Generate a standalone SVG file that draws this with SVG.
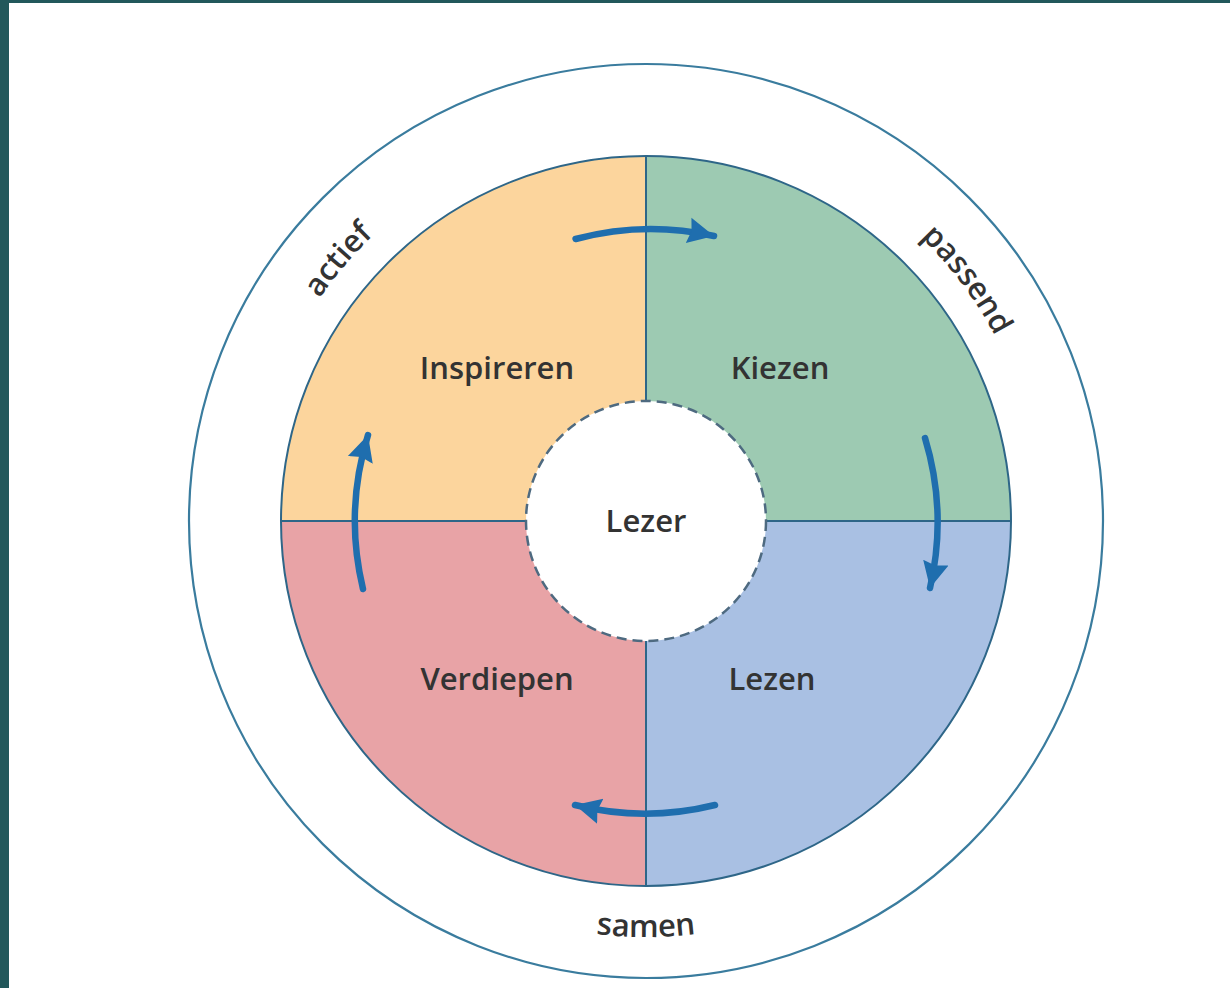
<svg xmlns="http://www.w3.org/2000/svg" width="1230" height="988" viewBox="0 0 1230 988">
  <style>
    .lbl { font-family: "Open Sans", "Liberation Sans", sans-serif; font-weight: 600; font-size: 31px; fill: #333333; text-anchor: middle; }
    .div { stroke: #2E6688; stroke-width: 2; fill: none; }
    .arr { stroke: #1F6EAE; stroke-width: 6.5; fill: none; stroke-linecap: round; marker-end: url(#ah); }
  </style>
  <defs>
    <marker id="ah" markerUnits="userSpaceOnUse" markerWidth="30" markerHeight="30" viewBox="0 0 30 30" refX="26" refY="15" orient="auto">
      <path d="M0,2 L26,15 L0,28 L3,15 Z" fill="#1F6EAE"/>
    </marker>
    <path id="topArc" d="M 251,521 A 395 395 0 0 1 1041,521"/>
    <path id="botArc" d="M 230,521 A 416 416 0 0 0 1062,521"/>
  </defs>

  <rect x="0" y="0" width="1230" height="988" fill="#ffffff"/>
  <rect x="0" y="0" width="9" height="988" fill="#22585B"/>
  <rect x="0" y="0" width="1230" height="3" fill="#22585B"/>

  <g id="outer-ring">
    <circle cx="646" cy="521" r="457" fill="none" stroke="#3A7C9E" stroke-width="2.2"/>
    <text class="lbl"><textPath href="#topArc" startOffset="278">actief</textPath></text>
    <text class="lbl"><textPath href="#topArc" startOffset="986">passend</textPath></text>
    <text class="lbl"><textPath href="#botArc" startOffset="50%">samen</textPath></text>
  </g>

  <g id="inspireren">
    <path d="M646,521 L281,521 A365 365 0 0 1 646,156 Z" fill="#FCD59D"/>
    <text class="lbl" x="497" y="379">Inspireren</text>
  </g>
  <g id="kiezen">
    <path d="M646,521 L646,156 A365 365 0 0 1 1011,521 Z" fill="#9DCAB2"/>
    <text class="lbl" x="780" y="379">Kiezen</text>
  </g>
  <g id="lezen">
    <path d="M646,521 L1011,521 A365 365 0 0 1 646,886 Z" fill="#A9C0E3"/>
    <text class="lbl" x="772" y="690">Lezen</text>
  </g>
  <g id="verdiepen">
    <path d="M646,521 L646,886 A365 365 0 0 1 281,521 Z" fill="#E8A3A6"/>
    <text class="lbl" x="497" y="690">Verdiepen</text>
  </g>

  <g id="dividers">
    <circle cx="646" cy="521" r="365" class="div"/>
    <line x1="646" y1="156" x2="646" y2="886" class="div"/>
    <line x1="281" y1="521" x2="1011" y2="521" class="div"/>
  </g>

  <g id="lezer">
    <circle cx="646" cy="521" r="120" fill="#ffffff" stroke="#4E6A80" stroke-width="2.5" stroke-dasharray="10 6"/>
    <text class="lbl" x="646" y="532">Lezer</text>
  </g>

  <g id="connectors">
    <path class="arr" d="M 575.6,239 A 291 291 0 0 1 714,236"/>
    <path class="arr" d="M 925,438 A 291 291 0 0 1 930,588"/>
    <path class="arr" d="M 715,805 A 291 291 0 0 1 575,805"/>
    <path class="arr" d="M 363,589 A 291 291 0 0 1 368,435"/>
  </g>
</svg>
